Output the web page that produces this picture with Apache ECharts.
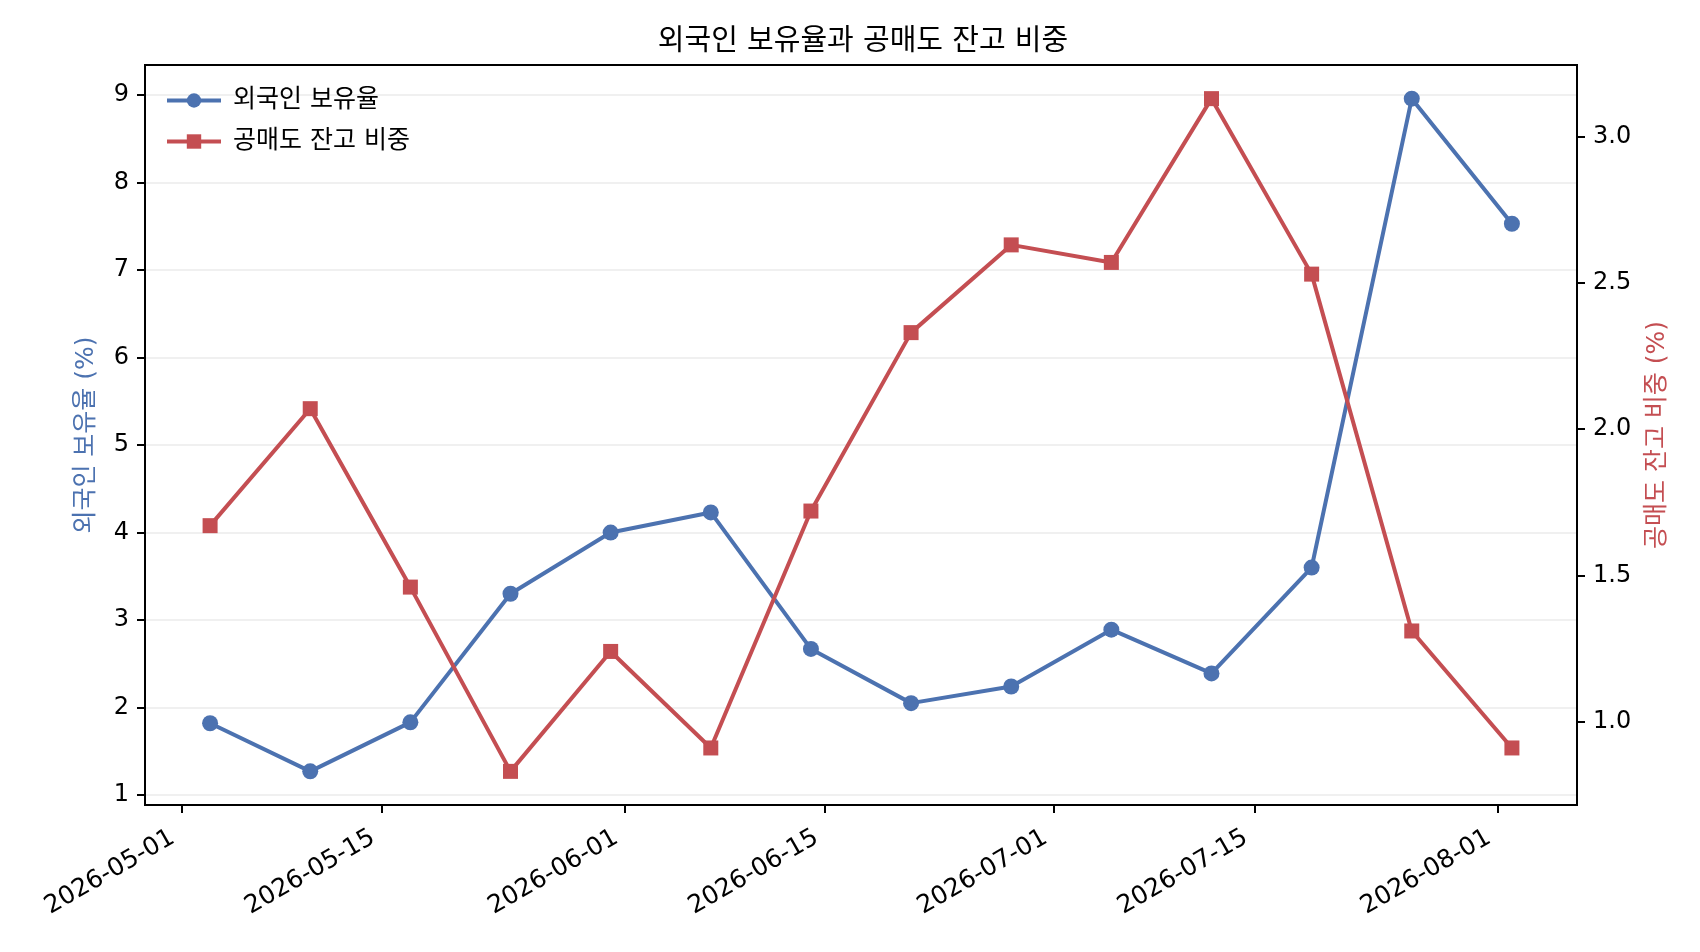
<!DOCTYPE html>
<html>
<head>
<meta charset="utf-8">
<script src="https://cdn.jsdelivr.net/npm/echarts@6/dist/echarts.min.js"></script>
<style>
  html, body { margin: 0; padding: 0; background: #fff; }
  #chart { width: 1700px; height: 952px; }
</style>
</head>
<body>
<div id="chart"></div>
<script>
(function () {
  'use strict';

  // weekly observation dates
  const dates = [
    '2026-05-03', '2026-05-10', '2026-05-17', '2026-05-24', '2026-05-31',
    '2026-06-07', '2026-06-14', '2026-06-21', '2026-06-28', '2026-07-05',
    '2026-07-12', '2026-07-19', '2026-07-26', '2026-08-02'
  ];
  // 외국인 보유율 (%)
  const foreignHolding = [1.82, 1.27, 1.83, 3.30, 4.00, 4.23, 2.67, 2.05, 2.24, 2.89, 2.39, 3.60, 8.96, 7.53];
  // 공매도 잔고 비중 (%)
  const shortBalance = [1.67, 2.07, 1.46, 0.83, 1.24, 0.91, 1.72, 2.33, 2.63, 2.57, 3.13, 2.53, 1.31, 0.91];

  const xTickLabels = ['2026-05-01', '2026-05-15', '2026-06-01', '2026-06-15', '2026-07-01', '2026-07-15', '2026-08-01'];
  const leftTicks = [1, 2, 3, 4, 5, 6, 7, 8, 9];
  const rightTicks = [1.0, 1.5, 2.0, 2.5, 3.0];

  const BLUE = '#4c72b0';
  const RED = '#c44e52';
  const FONT = '"DejaVu Sans", "Noto Sans CJK KR", sans-serif';

  const xs = dates.map(function (d) { return Date.parse(d); });
  const xTicks = xTickLabels.map(function (d) { return Date.parse(d); });

  // matplotlib-style 5% padding
  function padded(arr) {
    const lo = Math.min.apply(null, arr), hi = Math.max.apply(null, arr);
    const m = (hi - lo) * 0.05;
    return [lo - m, hi + m];
  }
  const xr = padded(xs), lr = padded(foreignHolding), rr = padded(shortBalance);

  function pad2(n) { return n < 10 ? '0' + n : '' + n; }
  function fmtDate(v) {
    const d = new Date(v);
    return d.getUTCFullYear() + '-' + pad2(d.getUTCMonth() + 1) + '-' + pad2(d.getUTCDate());
  }

  const axisLine = { show: true, lineStyle: { color: '#000', width: 2 } };
  const axisTick = { show: true, inside: false, length: 8, lineStyle: { color: '#000', width: 2 } };

  const chart = echarts.init(document.getElementById('chart'), null, { renderer: 'canvas' });
  chart.setOption({
    animation: false,
    backgroundColor: '#fff',
    textStyle: { fontFamily: FONT },
    title: {
      text: '외국인 보유율과 공매도 잔고 비중',
      left: 858, top: 23, textAlign: 'center',
      textStyle: { fontFamily: FONT, fontSize: 29, fontWeight: 'normal', color: '#000' }
    },
    grid: { left: 145, right: 123, top: 65, bottom: 147, show: true, borderColor: '#000', borderWidth: 2, backgroundColor: 'transparent' },
    legend: {
      orient: 'vertical', left: 160, top: 82,
      itemWidth: 54, itemHeight: 18, itemGap: 14,
      lineStyle: { width: 4 },
      textStyle: { fontFamily: FONT, fontSize: 25, color: '#000', lineHeight: 27, padding: [0, 0, 0, 7] },
      data: ['외국인 보유율', '공매도 잔고 비중']
    },
    xAxis: {
      type: 'value', min: xr[0], max: xr[1],
      axisLine: axisLine,
      axisTick: Object.assign({ customValues: xTicks }, axisTick),
      axisLabel: {
        customValues: xTicks, rotate: 30, margin: 26, padding: [0, 10, 0, 0],
        fontFamily: FONT, fontSize: 25, color: '#000',
        formatter: fmtDate
      },
      splitLine: { show: false }
    },
    yAxis: [
      {
        type: 'value', position: 'left', min: lr[0], max: lr[1],
        name: '외국인 보유율 (%)', nameLocation: 'middle', nameRotate: 90, nameGap: 46,
        nameTextStyle: { fontFamily: FONT, fontSize: 25, color: BLUE },
        axisLine: axisLine,
        axisTick: Object.assign({ customValues: leftTicks }, axisTick),
        axisLabel: { customValues: leftTicks, margin: 16, fontFamily: FONT, fontSize: 24, color: '#000' },
        splitLine: { show: true, lineStyle: { color: '#ebebeb', width: 1.5 } }
      },
      {
        type: 'value', position: 'right', min: rr[0], max: rr[1],
        name: '공매도 잔고 비중 (%)', nameLocation: 'middle', nameRotate: 90, nameGap: 68,
        nameTextStyle: { fontFamily: FONT, fontSize: 25, color: RED },
        axisLine: axisLine,
        axisTick: Object.assign({ customValues: rightTicks }, axisTick),
        axisLabel: {
          customValues: rightTicks, margin: 16, fontFamily: FONT, fontSize: 24, color: '#000',
          formatter: function (v) { return v.toFixed(1); }
        },
        splitLine: { show: false }
      }
    ],
    series: [
      {
        name: '외국인 보유율', type: 'line', yAxisIndex: 0,
        data: xs.map(function (x, i) { return [x, foreignHolding[i]]; }),
        symbol: 'circle', symbolSize: 16, showAllSymbol: true,
        lineStyle: { color: BLUE, width: 4 },
        itemStyle: { color: BLUE },
        emphasis: { disabled: true }
      },
      {
        name: '공매도 잔고 비중', type: 'line', yAxisIndex: 1,
        data: xs.map(function (x, i) { return [x, shortBalance[i]]; }),
        symbol: 'rect', symbolSize: 15, showAllSymbol: true,
        lineStyle: { color: RED, width: 4 },
        itemStyle: { color: RED },
        emphasis: { disabled: true }
      }
    ]
  });
})();
</script>
</body>
</html>
